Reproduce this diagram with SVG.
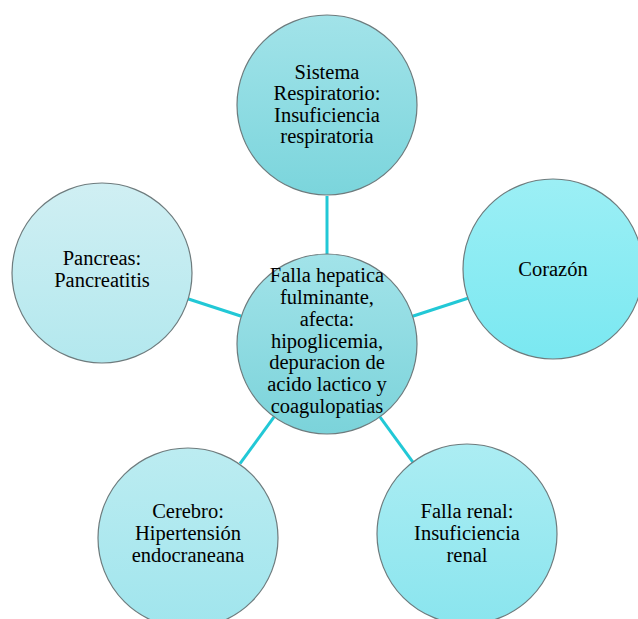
<svg xmlns="http://www.w3.org/2000/svg" width="638" height="619" viewBox="0 0 638 619">
<defs>
<linearGradient id="gTop" x1="0" y1="0" x2="0" y2="1"><stop offset="0" stop-color="#a2e3e9"/><stop offset="1" stop-color="#7bd5dc"/></linearGradient>
<linearGradient id="gCenter" x1="0" y1="0" x2="0" y2="1"><stop offset="0" stop-color="#a2e3e9"/><stop offset="1" stop-color="#7bd3da"/></linearGradient>
<linearGradient id="gRight" x1="0" y1="0" x2="0" y2="1"><stop offset="0" stop-color="#9ceff5"/><stop offset="1" stop-color="#7ae8f1"/></linearGradient>
<linearGradient id="gLeft" x1="0" y1="0" x2="0" y2="1"><stop offset="0" stop-color="#d0eff3"/><stop offset="1" stop-color="#b3e8ee"/></linearGradient>
<linearGradient id="gBL" x1="0" y1="0" x2="0" y2="1"><stop offset="0" stop-color="#bcecf1"/><stop offset="1" stop-color="#a0e5ed"/></linearGradient>
<linearGradient id="gBR" x1="0" y1="0" x2="0" y2="1"><stop offset="0" stop-color="#acedf3"/><stop offset="1" stop-color="#8ae5ee"/></linearGradient>
</defs>
<style>
.c{stroke:#6e7b7d;stroke-width:1.2}
.t{font-family:'Liberation Serif','Times New Roman',Times,Tinos,'Noto Serif','DejaVu Serif',FreeSerif,serif;font-size:20.5px;fill:#000;text-anchor:middle}
.ln{stroke:#22c8d6;stroke-width:3;fill:none}
</style>
<rect width="638" height="619" fill="#fff"/>
<g id="connectors">
<line class="ln" x1="327" y1="254" x2="327" y2="196"/>
<line class="ln" x1="412.6" y1="316.2" x2="467.8" y2="298.3"/>
<line class="ln" x1="379.9" y1="416.8" x2="414" y2="463.7"/>
<line class="ln" x1="274.1" y1="416.8" x2="240" y2="463.7"/>
<line class="ln" x1="241.4" y1="316.2" x2="186.2" y2="298.3"/>
</g>
<g id="center">
<circle class="c" cx="327" cy="344" r="90" fill="url(#gCenter)"/>
<text class="t"><tspan x="327" y="282">Falla hepatica</tspan><tspan x="327" y="304">fulminante,</tspan><tspan x="327" y="326">afecta:</tspan><tspan x="327" y="348">hipoglicemia,</tspan><tspan x="327" y="369">depuracion de</tspan><tspan x="327" y="391">acido lactico y</tspan><tspan x="327" y="413">coagulopatias</tspan></text>
</g>
<g id="top">
<circle class="c" cx="327" cy="105" r="90" fill="url(#gTop)"/>
<text class="t"><tspan x="327" y="79">Sistema</tspan><tspan x="327" y="100">Respiratorio:</tspan><tspan x="327" y="122">Insuficiencia</tspan><tspan x="327" y="143">respiratoria</tspan></text>
</g>
<g id="right">
<circle class="c" cx="553" cy="269" r="90" fill="url(#gRight)"/>
<text class="t" x="553" y="276">Corazón</text>
</g>
<g id="bottomRight">
<circle class="c" cx="467" cy="534" r="90" fill="url(#gBR)"/>
<text class="t"><tspan x="467" y="518">Falla renal:</tspan><tspan x="467" y="540">Insuficiencia</tspan><tspan x="467" y="562">renal</tspan></text>
</g>
<g id="bottomLeft">
<circle class="c" cx="188" cy="538" r="90" fill="url(#gBL)"/>
<text class="t"><tspan x="188" y="518">Cerebro:</tspan><tspan x="188" y="540">Hipertensión</tspan><tspan x="188" y="562">endocraneana</tspan></text>
</g>
<g id="left">
<circle class="c" cx="102" cy="273" r="90" fill="url(#gLeft)"/>
<text class="t"><tspan x="102" y="265">Pancreas:</tspan><tspan x="102" y="287">Pancreatitis</tspan></text>
</g>
</svg>
